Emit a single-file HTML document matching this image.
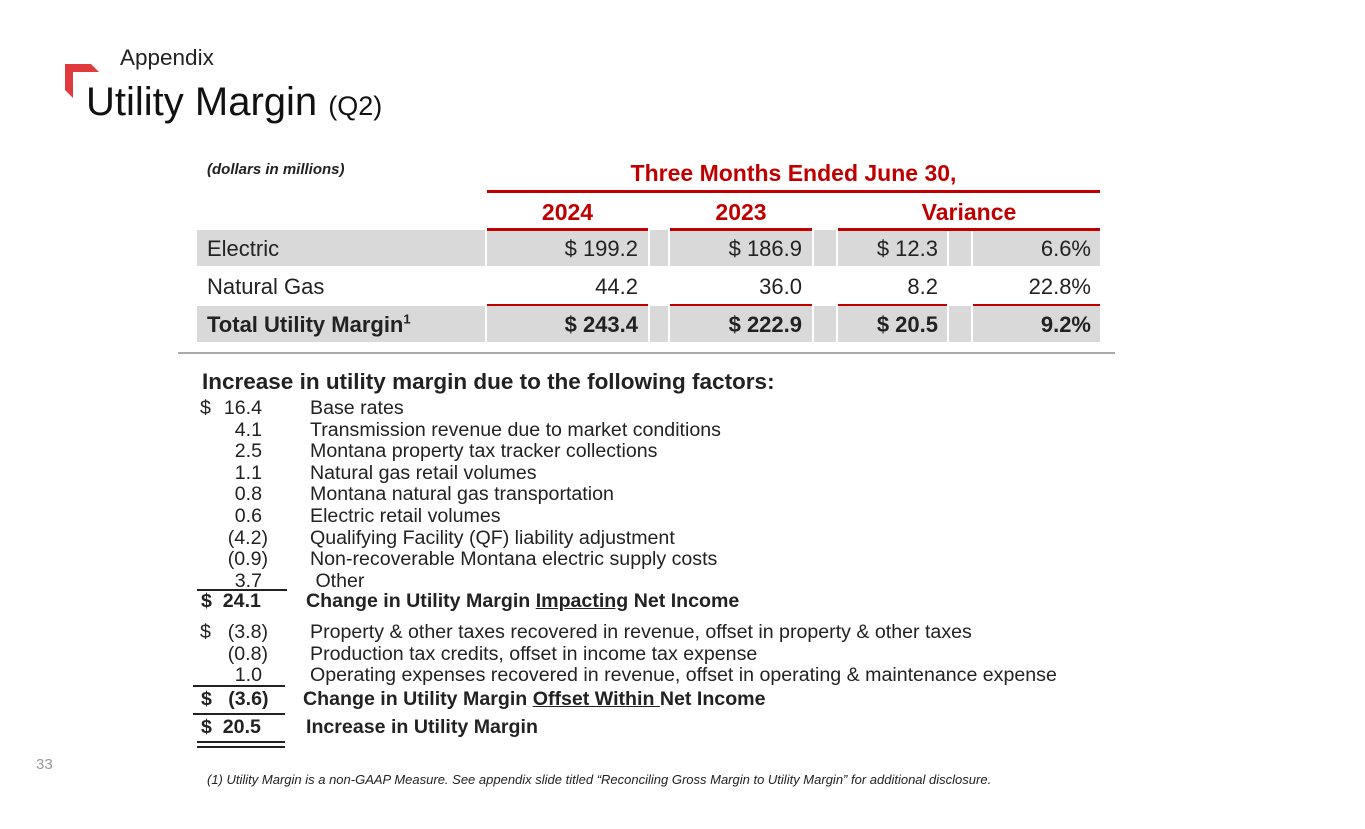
<!DOCTYPE html>
<html><head><meta charset="utf-8"><style>
body{margin:0;width:1365px;height:829px;background:#fff;position:relative;overflow:hidden;font-family:"Liberation Sans",Arial,sans-serif;color:#222}
.a{position:absolute;white-space:nowrap}
.g{position:absolute;background:#d9d9d9}
.r{position:absolute;background:#c00000}
.t{font-size:22px;line-height:36px}
.num{text-align:right}
.l{font-size:19.6px;line-height:21.6px}
.hl{position:absolute;background:#222;height:2px}
.h{font-size:23px;font-weight:bold;color:#c00000;text-align:center}
</style></head><body>
<svg class="a" style="left:65px;top:64px" width="34" height="34"><polygon points="0,0 26,0 34,8 8,8 8,34 0,26" fill="#e03a3e"/></svg>
<div class="a" style="left:120px;top:45px;font-size:22.5px">Appendix</div>
<div class="a" style="left:86px;top:80px;font-size:40px;color:#111">Utility Margin <span style="font-size:27px">(Q2)</span></div>
<div class="a" style="left:207px;top:161px;font-size:15px;font-style:italic;font-weight:bold">(dollars in millions)</div>
<div class="a h" style="left:487px;width:613px;top:160px">Three Months Ended June 30,</div>
<div class="r" style="left:487px;top:190px;width:613px;height:3px"></div>
<div class="a h" style="left:487px;width:161px;top:199px">2024</div>
<div class="a h" style="left:670px;width:142px;top:199px">2023</div>
<div class="a h" style="left:838px;width:262px;top:199px">Variance</div>

<div class="g" style="left:197px;top:230px;width:903px;height:36px"></div>
<div class="g" style="left:197px;top:306px;width:903px;height:36px"></div>
<div class="a" style="left:485px;top:230px;width:2px;height:112px;background:#fff"></div>
<div class="a" style="left:648px;top:230px;width:2px;height:112px;background:#fff"></div>
<div class="a" style="left:668px;top:230px;width:2px;height:112px;background:#fff"></div>
<div class="a" style="left:812px;top:230px;width:2px;height:112px;background:#fff"></div>
<div class="a" style="left:836px;top:230px;width:2px;height:112px;background:#fff"></div>
<div class="a" style="left:947px;top:230px;width:2px;height:112px;background:#fff"></div>
<div class="a" style="left:971px;top:230px;width:2px;height:112px;background:#fff"></div>
<div class="r" style="left:487px;top:228px;width:161px;height:3px"></div>
<div class="r" style="left:670px;top:228px;width:142px;height:3px"></div>
<div class="r" style="left:838px;top:228px;width:262px;height:3px"></div>
<div class="r" style="left:487px;top:304px;width:161px;height:2px"></div>
<div class="r" style="left:670px;top:304px;width:142px;height:2px"></div>
<div class="r" style="left:838px;top:304px;width:109px;height:2px"></div>
<div class="r" style="left:973px;top:304px;width:127px;height:2px"></div>

<div class="a t" style="left:207px;top:231px">Electric</div>
<div class="a t num" style="left:487px;width:151px;top:231px">$ 199.2</div>
<div class="a t num" style="left:670px;width:132px;top:231px">$ 186.9</div>
<div class="a t num" style="left:838px;width:100px;top:231px">$ 12.3</div>
<div class="a t num" style="left:973px;width:118px;top:231px">6.6%</div>
<div class="a t" style="left:207px;top:269px">Natural Gas</div>
<div class="a t num" style="left:487px;width:151px;top:269px">44.2</div>
<div class="a t num" style="left:670px;width:132px;top:269px">36.0</div>
<div class="a t num" style="left:838px;width:100px;top:269px">8.2</div>
<div class="a t num" style="left:973px;width:118px;top:269px">22.8%</div>
<div class="a t" style="left:207px;top:307px;font-weight:bold">Total Utility Margin<sup style="font-size:13px;line-height:0">1</sup></div>
<div class="a t num" style="left:487px;width:151px;top:307px;font-weight:bold">$ 243.4</div>
<div class="a t num" style="left:670px;width:132px;top:307px;font-weight:bold">$ 222.9</div>
<div class="a t num" style="left:838px;width:100px;top:307px;font-weight:bold">$ 20.5</div>
<div class="a t num" style="left:973px;width:118px;top:307px;font-weight:bold">9.2%</div>
<div class="a" style="left:178px;top:352px;width:937px;height:2px;background:#aaa"></div>

<div class="a" style="left:202px;top:369px;font-size:22.5px;font-weight:bold">Increase in utility margin due to the following factors:</div>
<div class="a l" style="left:200px;top:398px;width:62px">
<div>$<span style="float:right">16.4</span></div>
<div style="text-align:right">4.1</div><div style="text-align:right">2.5</div><div style="text-align:right">1.1</div><div style="text-align:right">0.8</div><div style="text-align:right">0.6</div>
<div style="text-align:right;margin-right:-6px">(4.2)</div><div style="text-align:right;margin-right:-6px">(0.9)</div><div style="text-align:right">3.7</div>
</div>
<div class="a l" style="left:310px;top:398px">
<div>Base rates</div><div>Transmission revenue due to market conditions</div><div>Montana property tax tracker collections</div><div>Natural gas retail volumes</div><div>Montana natural gas transportation</div><div>Electric retail volumes</div><div>Qualifying Facility (QF) liability adjustment</div><div>Non-recoverable Montana electric supply costs</div><div>&nbsp;Other</div>
</div>
<div class="hl" style="left:197px;top:589px;width:90px"></div>
<div class="a l" style="left:201px;top:591px;font-weight:bold">$&nbsp; 24.1</div>
<div class="a l" style="left:306px;top:591px;font-weight:bold">Change in Utility Margin <u>Impacting</u> Net Income</div>

<div class="a l" style="left:200px;top:622px;width:68px">
<div>$<span style="float:right">(3.8)</span></div><div style="text-align:right">(0.8)</div><div style="text-align:right;margin-right:6px">1.0</div>
</div>
<div class="a l" style="left:310px;top:622px">
<div>Property &amp; other taxes recovered in revenue, offset in property &amp; other taxes</div><div>Production tax credits, offset in income tax expense</div><div>Operating expenses recovered in revenue, offset in operating &amp; maintenance expense</div>
</div>
<div class="hl" style="left:193px;top:685px;width:92px"></div>
<div class="a l" style="left:201px;top:689px;font-weight:bold">$&nbsp;&nbsp; (3.6)</div>
<div class="a l" style="left:303px;top:689px;font-weight:bold">Change in Utility Margin <u>Offset Within </u>Net Income</div>
<div class="hl" style="left:193px;top:713px;width:92px"></div>
<div class="a l" style="left:201px;top:717px;font-weight:bold">$&nbsp; 20.5</div>
<div class="a l" style="left:306px;top:717px;font-weight:bold">Increase in Utility Margin</div>
<div class="hl" style="left:197px;top:741px;width:88px"></div>
<div class="hl" style="left:197px;top:746px;width:88px"></div>

<div class="a" style="left:36px;top:756px;font-size:15px;color:#999">33</div>
<div class="a" style="left:207px;top:772px;font-size:13px;font-style:italic">(1) Utility Margin is a non-GAAP Measure. See appendix slide titled “Reconciling Gross Margin to Utility Margin” for additional disclosure.</div>
</body></html>
